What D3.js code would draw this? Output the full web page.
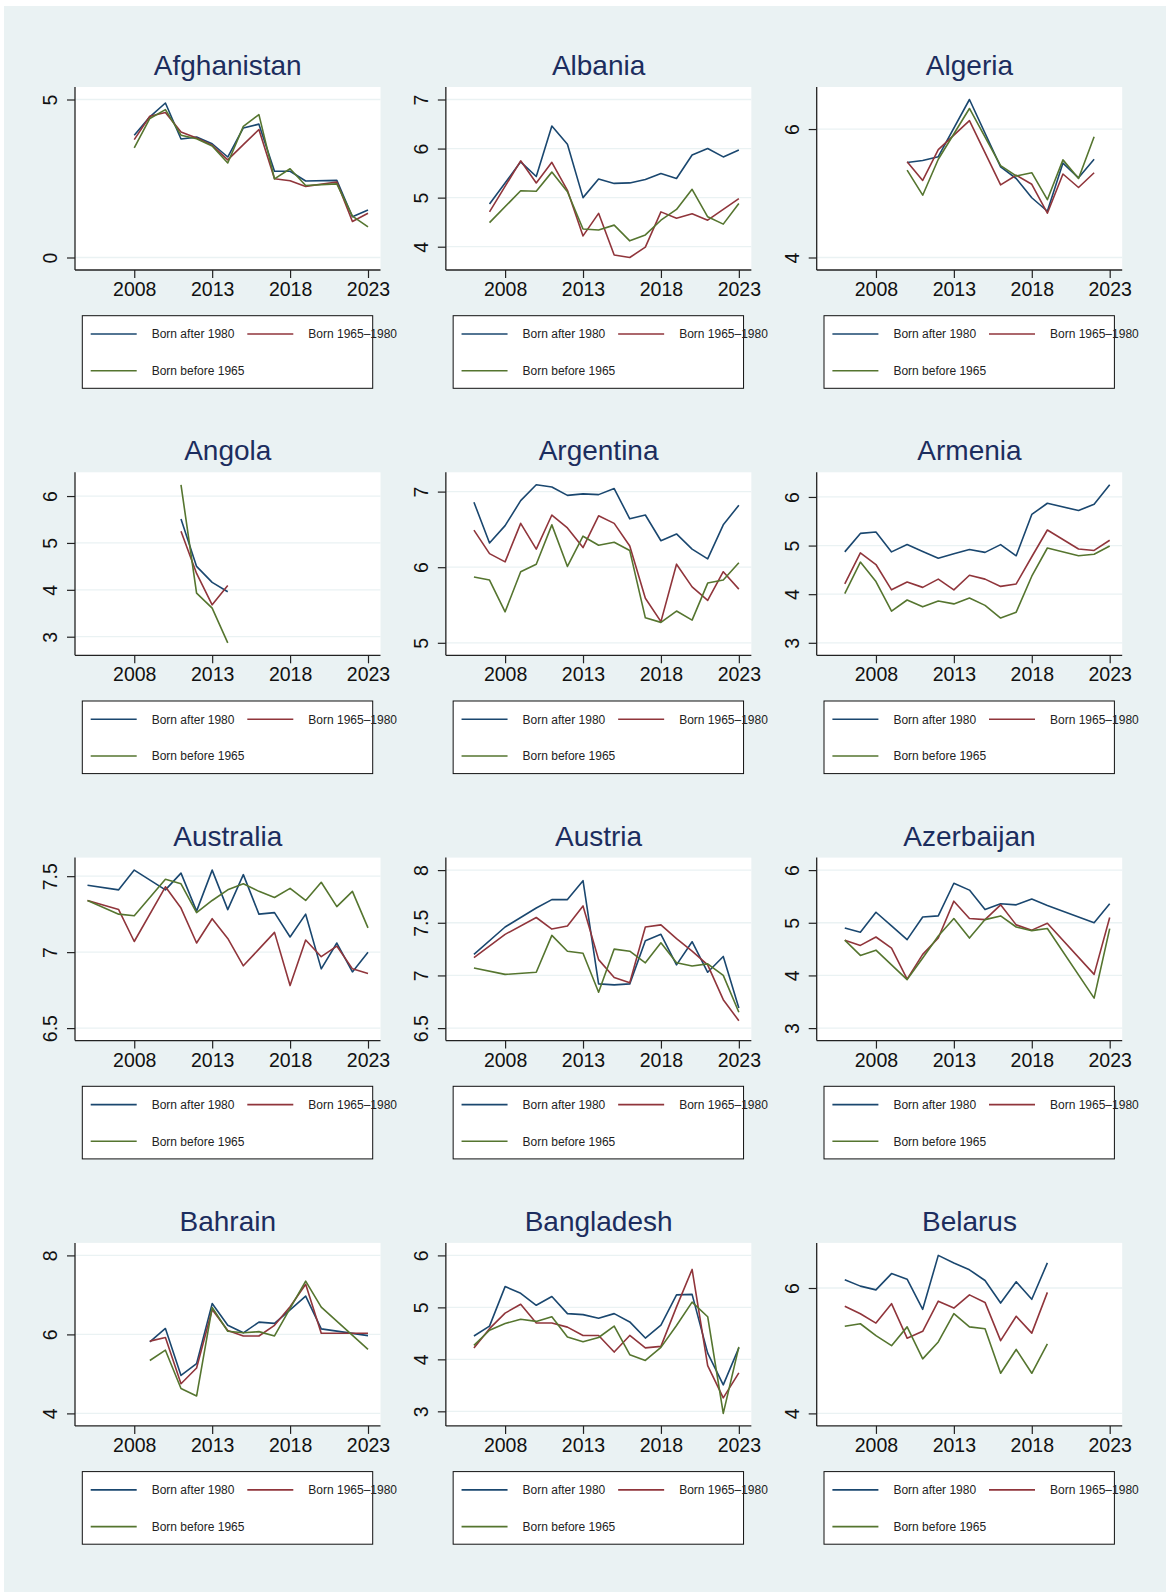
<!DOCTYPE html>
<html>
<head>
<meta charset="utf-8">
<script src="https://cdn.jsdelivr.net/npm/d3@7"></script>
<style>
  body { margin: 0; background: #fff; }
  svg { display: block; }
  text { font-family: "Liberation Sans", Arial, sans-serif; }
</style>
</head>
<body>
<svg></svg>
<script>
// years 2005..2023, null = no survey that year
const years = d3.range(2005, 2024);
const seriesNames = ["Born after 1980", "Born 1965\u20131980", "Born before 1965"];
const seriesColors = ["#1a476f", "#90353b", "#55752f"];

const afgAfter = [null,null,null,3.87,4.45,4.89,3.75,3.81,3.60,3.18,4.10,4.22,2.73,2.73,2.42,null,2.44,1.29,1.50];
const afgMid   = [null,null,null,3.73,4.47,4.59,3.97,3.78,3.55,3.09,3.57,4.05,2.49,2.43,2.25,null,2.39,1.14,1.40];
const afgOld   = [null,null,null,3.47,4.40,4.68,3.87,3.76,3.53,2.99,4.15,4.52,2.49,2.81,2.28,null,2.33,1.31,0.97];
const afgTicks = [0, 5];

const albAfter = [null,null,4.87,null,5.73,5.43,6.46,6.09,5.00,5.38,5.29,5.30,5.37,5.49,5.39,5.87,6.00,5.83,5.97];
const albMid   = [null,null,4.71,null,5.75,5.30,5.72,5.15,4.22,4.68,3.83,3.78,3.99,4.71,4.58,4.67,4.54,4.76,4.98];
const albOld   = [null,null,4.49,null,5.14,5.13,5.52,5.12,4.36,4.34,4.44,4.12,4.24,4.54,4.76,5.17,4.61,4.46,4.88];
const albTicks = [4, 5, 6, 7];

const dzaAfter = [null,null,null,null,null,5.48,5.51,5.57,null,6.46,null,5.41,5.23,4.93,4.72,5.47,5.24,5.53,null];
const dzaMid   = [null,null,null,null,null,5.49,5.20,5.68,null,6.13,null,5.13,5.28,5.14,4.69,5.30,5.09,5.32,null];
const dzaOld   = [null,null,null,null,null,5.36,4.97,5.53,null,6.32,null,5.43,5.27,5.32,4.90,5.52,5.23,5.88,null];
const dzaTicks = [4, 6];

const agoAfter = [null,null,null,null,null,null,5.51,4.50,4.16,3.96,null,null,null,null,null,null,null,null,null];
const agoMid   = [null,null,null,null,null,null,5.25,4.35,3.68,4.09,null,null,null,null,null,null,null,null,null];
const agoOld   = [null,null,null,null,null,null,6.24,3.93,3.61,2.87,null,null,null,null,null,null,null,null,null];
const agoTicks = [3, 4, 5, 6];

const argAfter = [null,6.86,6.32,6.55,6.88,7.09,7.06,6.95,6.97,6.96,7.04,6.64,6.69,6.35,6.44,6.24,6.11,6.56,6.82];
const argMid   = [null,6.49,6.18,6.07,6.58,6.24,6.69,6.52,6.26,6.68,6.58,6.28,5.59,5.28,6.04,5.74,5.56,5.94,5.71];
const argOld   = [null,5.87,5.83,5.41,5.94,6.04,6.56,6.01,6.41,6.29,6.33,6.22,5.33,5.27,5.42,5.30,5.79,5.83,6.06];
const argTicks = [5, 6, 7];

const armAfter = [null,4.87,5.25,5.28,4.87,5.02,4.88,4.74,4.83,4.92,4.86,5.02,4.79,5.64,5.87,null,5.72,5.85,6.25];
const armMid   = [null,4.21,4.85,4.61,4.09,4.25,4.14,4.31,4.09,4.39,4.31,4.16,4.21,4.77,5.32,null,4.93,4.90,5.11];
const armOld   = [null,4.01,4.66,4.26,3.65,3.88,3.74,3.86,3.80,3.92,3.77,3.51,3.63,4.37,4.95,null,4.79,4.82,4.99];
const armTicks = [3, 4, 5, 6];

const ausAfter = [7.44,null,7.41,7.54,null,7.41,7.52,7.27,7.54,7.28,7.51,7.25,7.26,7.10,7.25,6.89,7.06,6.87,7.00];
const ausMid   = [7.34,null,7.28,7.07,null,7.43,7.29,7.06,7.22,7.09,6.91,7.02,7.13,6.78,7.08,6.97,7.04,6.89,6.86];
const ausOld   = [7.34,null,7.25,7.24,null,7.48,7.45,7.26,7.34,7.41,7.45,7.40,7.36,7.42,7.34,7.46,7.30,7.40,7.16];
const ausTicks = [6.5, 7, 7.5];

const autAfter = [null,7.20,null,7.46,null,7.64,7.72,7.72,7.90,6.92,6.91,6.92,7.33,7.39,7.10,7.32,7.03,7.18,6.69];
const autMid   = [null,7.17,null,7.39,null,7.55,7.44,7.47,7.66,7.15,6.98,6.93,7.46,7.48,7.35,7.23,7.10,6.77,6.57];
const autOld   = [null,7.07,null,7.01,null,7.03,7.38,7.23,7.21,6.84,7.25,7.23,7.12,7.31,7.12,7.09,7.11,7.00,6.65];
const autTicks = [6.5, 7, 7.5, 8];

const azeAfter = [null,4.90,4.82,5.20,4.94,4.68,5.11,5.13,5.75,5.62,5.25,5.36,5.34,5.45,5.33,null,null,5.00,5.36];
const azeMid   = [null,4.67,4.57,4.73,4.52,3.93,4.40,4.71,5.41,5.08,5.06,5.34,4.96,4.86,4.99,null,null,4.02,5.10];
const azeOld   = [null,4.67,4.38,4.48,4.20,3.92,4.33,4.75,5.08,4.71,5.06,5.13,4.92,4.85,4.89,null,null,3.57,4.89];
const azeTicks = [3, 4, 5, 6];

const bhrAfter = [null,null,null,null,5.81,6.15,4.96,5.26,6.78,6.23,6.04,6.31,6.28,6.62,6.97,6.14,null,null,5.97];
const bhrMid   = [null,null,null,null,5.83,5.92,4.75,5.15,6.63,6.10,5.96,5.96,6.23,6.70,7.27,6.03,null,null,6.03];
const bhrOld   = [null,null,null,null,5.34,5.60,4.63,4.44,6.68,6.08,6.04,6.07,5.96,6.66,7.35,6.69,null,null,5.62];
const bhrTicks = [4, 6, 8];

const bgdAfter = [null,4.45,4.64,5.40,5.27,5.04,5.21,4.88,4.86,4.79,4.88,4.72,4.41,4.66,5.24,5.25,4.12,3.51,4.22];
const bgdMid   = [null,4.22,4.59,4.89,5.06,4.70,4.70,4.62,4.46,4.46,4.14,4.46,4.22,4.25,5.01,5.73,3.88,3.26,3.74];
const bgdOld   = [null,4.27,4.56,4.69,4.77,4.73,4.82,4.43,4.34,4.42,4.64,4.09,3.98,4.23,4.65,5.10,4.82,2.96,4.24];
const bgdTicks = [3, 4, 5, 6];

const blrAfter = [null,6.13,6.03,5.97,6.23,6.14,5.66,6.52,6.40,6.29,6.12,5.76,6.10,5.82,6.40,null,null,null,null];
const blrMid   = [null,5.71,5.59,5.44,5.75,5.20,5.31,5.79,5.68,5.89,5.77,5.16,5.55,5.28,5.93,null,null,null,null];
const blrOld   = [null,5.39,5.43,5.24,5.08,5.38,4.87,5.14,5.59,5.38,5.35,4.64,5.02,4.64,5.11,null,null,null,null];
const blrTicks = [4, 6];

const countries = ["Afghanistan", "Albania", "Algeria", "Angola", "Argentina", "Armenia",
                   "Australia", "Austria", "Azerbaijan", "Bahrain", "Bangladesh", "Belarus"];
const panelSeries = [
  [afgAfter, afgMid, afgOld], [albAfter, albMid, albOld], [dzaAfter, dzaMid, dzaOld],
  [agoAfter, agoMid, agoOld], [argAfter, argMid, argOld], [armAfter, armMid, armOld],
  [ausAfter, ausMid, ausOld], [autAfter, autMid, autOld], [azeAfter, azeMid, azeOld],
  [bhrAfter, bhrMid, bhrOld], [bgdAfter, bgdMid, bgdOld], [blrAfter, blrMid, blrOld]
];
const panelTicks = [afgTicks, albTicks, dzaTicks, agoTicks, argTicks, armTicks,
                    ausTicks, autTicks, azeTicks, bhrTicks, bgdTicks, blrTicks];
const xTicks = [2008, 2013, 2018, 2023];

let width = 1166, height = 1593,
    left0 = 75, colStep = 370.85, top0 = 87, rowStep = 385.3,
    plotW = 305.5, plotH = 183, pad = 12.5;

let svg = d3.select("svg").attr("width", width).attr("height", height);

svg.append("rect")
  .attr("x", 4).attr("y", 6)
  .attr("width", width - 4).attr("height", height - 7)
  .attr("fill", "#eaf2f3");

countries.forEach((name, i) => {
  let col = i % 3, row = Math.floor(i / 3),
      left = left0 + col * colStep, top = top0 + row * rowStep,
      bottom = top + plotH, right = left + plotW;

  let series = panelSeries[i], ticks = panelTicks[i];
  let allVals = ticks.concat(...series.map(s => s.filter(v => v != null)));

  let xScale = d3.scaleLinear().domain([2005, 2023]).range([left + pad, right - pad]),
      yScale = d3.scaleLinear().domain(d3.extent(allVals)).range([bottom - pad, top + pad]);

  let g = svg.append("g");

  g.append("rect")
    .attr("x", left).attr("y", top)
    .attr("width", plotW).attr("height", plotH)
    .attr("fill", "#fff");

  // grid
  g.selectAll(".grid")
    .data(ticks)
    .enter()
    .append("line")
    .attr("x1", left).attr("x2", right)
    .attr("y1", d => yScale(d)).attr("y2", d => yScale(d))
    .attr("stroke", "#eaf2f3")
    .attr("stroke-width", 1.3);

  // lines
  let line = d3.line().x(d => xScale(d[0])).y(d => yScale(d[1]));
  series.forEach((vals, k) => {
    let pts = years.map((y, j) => [y, vals[j]]).filter(d => d[1] != null);
    g.append("path")
      .attr("d", line(pts))
      .attr("fill", "none")
      .attr("stroke", seriesColors[k])
      .attr("stroke-width", 1.6)
      .attr("stroke-linejoin", "round");
  });

  // axes
  let yAxis = d3.axisLeft(yScale).tickValues(ticks).tickSize(8).tickSizeOuter(0).tickFormat(d3.format("~g"));
  let xAxis = d3.axisBottom(xScale).tickValues(xTicks).tickSize(8).tickSizeOuter(0).tickFormat(d3.format("d"));

  let ya = g.append("g").attr("transform", `translate(${left},0)`).call(yAxis);
  ya.select(".domain").remove();
  ya.selectAll("line").attr("stroke", "#222").attr("stroke-width", 1.2);
  ya.selectAll("text")
    .attr("transform", "rotate(-90)")
    .attr("x", 0).attr("y", -18).attr("dy", 0)
    .attr("text-anchor", "middle")
    .style("font-size", "19.5px")
    .attr("fill", "#111");

  let xa = g.append("g").attr("transform", `translate(0,${bottom})`).call(xAxis);
  xa.select(".domain").remove();
  xa.selectAll("line").attr("stroke", "#222").attr("stroke-width", 1.2);
  xa.selectAll("text")
    .attr("y", 26).attr("dy", 0)
    .style("font-size", "19.5px")
    .attr("fill", "#111");

  g.append("line")
    .attr("x1", left).attr("x2", left).attr("y1", top).attr("y2", bottom)
    .attr("stroke", "#222").attr("stroke-width", 1.3);
  g.append("line")
    .attr("x1", left).attr("x2", right).attr("y1", bottom).attr("y2", bottom)
    .attr("stroke", "#222").attr("stroke-width", 1.3);

  // title
  g.append("text")
    .attr("x", (left + right) / 2)
    .attr("y", top - 12)
    .text(name)
    .style("font-size", "28px")
    .style("text-anchor", "middle")
    .attr("fill", "#1c2d5e");

  // legend
  let lg = g.append("g").attr("transform", `translate(${left},${bottom})`);
  lg.append("rect")
    .attr("x", 7.3).attr("y", 45.7)
    .attr("width", 290.4).attr("height", 72.6)
    .attr("fill", "#fff")
    .attr("stroke", "#111").attr("stroke-width", 1);

  let items = [[15.7, 64], [172.3, 64], [15.7, 100.7]];
  seriesNames.forEach((s, k) => {
    let [ix, iy] = items[k];
    lg.append("line")
      .attr("x1", ix).attr("x2", ix + 46)
      .attr("y1", iy).attr("y2", iy)
      .attr("stroke", seriesColors[k]).attr("stroke-width", 1.6);
    lg.append("text")
      .attr("x", ix + 61).attr("y", iy + 4.3)
      .text(s)
      .style("font-size", "12px")
      .attr("fill", "#222");
  });
});
</script>
</body>
</html>
